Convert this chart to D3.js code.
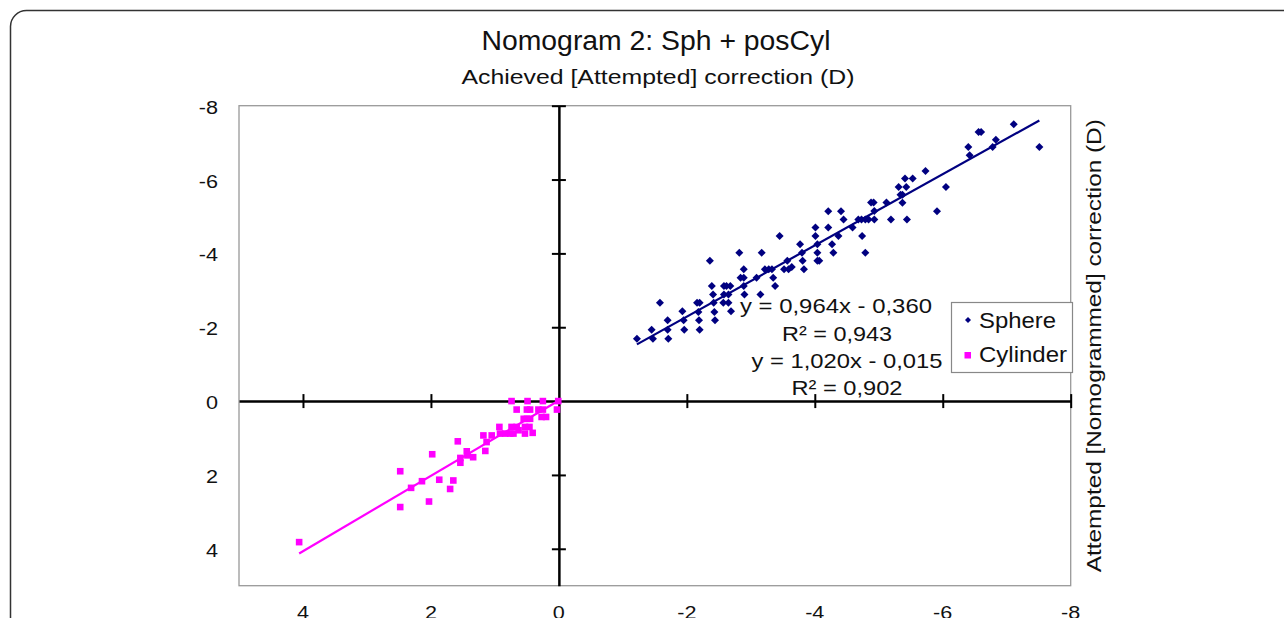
<!DOCTYPE html>
<html>
<head>
<meta charset="utf-8">
<script src="https://cdn.jsdelivr.net/npm/d3@7"></script>
<style>
  html, body { margin: 0; padding: 0; background: #fff; }
  svg { display: block; font-family: "Liberation Sans", Arial, sans-serif; }
</style>
</head>
<body>
<svg id="svg"></svg>
<script>
// values (x = achieved, y = attempted)
var sphereX = [-1.22,-1.45,-1.47,-1.58,-1.70,-1.70,-1.71,-1.93,-1.95,-1.96,-2.16,-2.20,-2.18,-2.19,-2.20,
  -2.36,-2.39,-2.41,-2.42,-2.43,-2.44,-2.58,-2.62,-2.68,-2.58,-2.65,-2.57,-2.65,-2.69,-2.82,-2.84,-2.89,
  -2.89,-2.89,-2.90,-3.17,-3.09,-3.15,-3.22,-3.28,-3.33,-3.35,-3.38,-3.45,-3.52,-3.57,-3.59,-3.64,-3.77,
  -3.80,-3.81,-3.83,-4.01,-4.01,-4.04,-4.04,-4.04,-4.07,-4.21,-4.21,-4.27,-4.29,-4.37,-4.41,-4.45,-4.59,
  -4.68,-4.73,-4.79,-4.74,-4.79,-4.84,-4.88,-4.92,-4.93,-4.93,-5.12,-5.19,-5.31,-5.34,-5.37,-5.37,-5.41,
  -5.43,-5.53,-5.44,-5.73,-5.91,-6.05,-6.40,-6.42,-6.56,-6.60,-6.78,-6.83,-7.11,-7.51];
var sphereY = [-1.69,-1.93,-1.69,-2.66,-2.19,-1.93,-1.69,-2.43,-2.19,-1.93,-2.66,-2.66,-2.41,-2.19,-1.93,
  -3.80,-3.12,-2.89,-2.66,-2.41,-2.19,-3.12,-3.12,-3.12,-2.89,-2.89,-2.66,-2.66,-2.43,-4.02,-3.34,-3.34,
  -3.57,-3.12,-2.89,-4.02,-3.34,-2.89,-3.57,-3.57,-3.57,-3.34,-3.12,-4.47,-3.57,-3.80,-3.57,-3.63,-4.25,
  -4.02,-3.80,-3.57,-4.70,-4.47,-4.25,-4.02,-3.80,-3.80,-5.14,-4.70,-4.25,-4.02,-4.47,-5.14,-4.92,-4.70,
  -4.92,-4.92,-4.92,-4.47,-4.02,-4.92,-5.38,-5.38,-5.15,-4.92,-5.38,-4.92,-5.80,-5.59,-5.59,-5.37,-6.03,
  -5.80,-6.03,-4.92,-6.23,-5.14,-5.80,-6.88,-6.66,-7.29,-7.29,-6.88,-7.08,-7.50,-6.88];

var cylX = [4.06,2.48,2.48,2.31,2.14,2.03,1.98,1.87,1.70,1.65,1.58,1.54,1.54,1.44,1.43,1.34,1.18,1.15,
  1.13,1.05,0.93,0.92,0.84,0.76,0.71,0.74,0.66,0.74,0.66,0.55,0.50,0.45,0.53,0.46,0.53,0.41,0.49,0.50,
  0.45,0.32,0.25,0.27,0.20,0.25,0.03,0.01,0.63];
var cylY = [3.82,1.90,2.87,2.35,2.17,2.72,1.44,2.13,2.38,2.15,1.09,1.54,1.67,1.36,1.47,1.52,0.93,1.35,
  1.11,0.93,0.70,0.88,0.88,0.88,0.88,0.70,0.70,0.00,0.23,0.48,0.48,0.48,0.70,0.70,0.88,0.86,0.00,0.23,
  0.23,0.23,0.23,0.43,0.43,0.00,0.23,0.00,0.79];

// trend lines y = a*x + b over the range of each series
var trendSphere = { a: 0.964, b: -0.360, from: -1.22, to: -7.51 };
var trendCyl = { a: 1.020, b: -0.015, from: 0, to: 4.06 };

var xTicks = [4, 2, 0, -2, -4, -6, -8];
var yTicks = [-8, -6, -4, -2, 0, 2, 4];

var width = 1284, height = 618;

var svg = d3.select("#svg").attr("width", width).attr("height", height);

// stretch a text to a measured width (the source fonts are wider than ours)
function fit(sel, w){
  sel.attr("textLength", w).attr("lengthAdjust", "spacingAndGlyphs");
  return sel;
}
function widen(sel, k){
  sel.each(function(){
    var len = this.getComputedTextLength();
    d3.select(this).attr("textLength", len * k).attr("lengthAdjust", "spacingAndGlyphs");
  });
}

// outer frame
svg.append("rect")
  .attr("x", 10.5).attr("y", 10.5)
  .attr("width", 1400).attr("height", 800)
  .attr("rx", 16)
  .attr("fill", "none").attr("stroke", "#333").attr("stroke-width", 1.5);

var x = d3.scaleLinear().domain([5, -8]).range([239, 1070.7]);
var y = d3.scaleLinear().domain([-8, 5]).range([105.7, 585.7]);

// plot area border
svg.append("rect")
  .attr("x", x(5)).attr("y", y(-8))
  .attr("width", x(-8) - x(5)).attr("height", y(5) - y(-8))
  .attr("fill", "none").attr("stroke", "#999").attr("stroke-width", 1.3);

// titles
fit(svg.append("text").attr("x", 656).attr("y", 50).attr("text-anchor", "middle")
  .attr("font-size", 27).attr("fill", "#111").text("Nomogram 2: Sph + posCyl"), 349);
fit(svg.append("text").attr("x", 658).attr("y", 84).attr("text-anchor", "middle")
  .attr("font-size", 20).attr("fill", "#111").text("Achieved [Attempted] correction (D)"), 393);
fit(svg.append("text").attr("transform", "translate(1101," + ((y(-8) + y(5)) / 2) + ") rotate(-90)")
  .attr("text-anchor", "middle").attr("font-size", 19.5).attr("fill", "#111")
  .text("Attempted [Nomogrammed] correction (D)"), 453);

// crossing axes through the origin
var xAxis = d3.axisBottom(x).tickValues(xTicks.filter(function(d){ return d !== 0; }))
  .tickSizeInner(0).tickSizeOuter(0).tickFormat("");
var yAxis = d3.axisLeft(y).tickValues(yTicks.filter(function(d){ return d !== 0; }))
  .tickSizeInner(0).tickSizeOuter(0).tickFormat("");

var gx = svg.append("g").attr("transform", "translate(0," + y(0) + ")").call(xAxis);
gx.select(".domain").attr("stroke", "#000").attr("stroke-width", 2.5);
gx.selectAll(".tick line").attr("y1", -7).attr("y2", 7).attr("stroke", "#000").attr("stroke-width", 2);

var gy = svg.append("g").attr("transform", "translate(" + x(0) + ",0)").call(yAxis);
gy.select(".domain").attr("stroke", "#000").attr("stroke-width", 2.5);
gy.selectAll(".tick line").attr("x1", -7).attr("x2", 7).attr("stroke", "#000").attr("stroke-width", 2);

// tick labels at the plot edges
var yl = svg.append("g").selectAll("text").data(yTicks).join("text")
  .attr("x", 218).attr("y", function(d){ return y(d) + 8; })
  .attr("text-anchor", "end").attr("font-size", 18).attr("fill", "#111")
  .text(function(d){ return d; });
widen(yl, 1.2);

// the bottom labels are cut by the picture edge, as in the original
var xl = svg.append("g").selectAll("text").data(xTicks).join("text")
  .attr("x", function(d){ return x(d); }).attr("y", 619)
  .attr("text-anchor", "middle").attr("font-size", 18).attr("fill", "#111")
  .text(function(d){ return d; });
widen(xl, 1.2);

// trend lines
var line = d3.line().x(function(d){ return x(d[0]); }).y(function(d){ return y(d[1]); });
function trendPts(t){ return [[t.from, t.a * t.from + t.b], [t.to, t.a * t.to + t.b]]; }

svg.append("path").attr("d", line(trendPts(trendCyl)))
  .attr("stroke", "#ff00ff").attr("stroke-width", 2.2).attr("fill", "none");
svg.append("path").attr("d", line(trendPts(trendSphere)))
  .attr("stroke", "#000080").attr("stroke-width", 2.2).attr("fill", "none");

// markers
var diamond = "M0,-4L4,0L0,4L-4,0Z";
var sphere = d3.zip(sphereX, sphereY);
var cyl = d3.zip(cylX, cylY);

svg.append("g").selectAll("rect").data(cyl).join("rect")
  .attr("x", function(d){ return x(d[0]) - 3.3; })
  .attr("y", function(d){ return y(d[1]) - 3.3; })
  .attr("width", 6.6).attr("height", 6.6)
  .attr("fill", "#ff00ff");

svg.append("g").selectAll("path").data(sphere).join("path")
  .attr("transform", function(d){ return "translate(" + x(d[0]) + "," + y(d[1]) + ")"; })
  .attr("d", diamond).attr("fill", "#000080");

// regression labels
var eqs = [
  { t: "y = 0,964x - 0,360", cx: 836, by: 313, w: 192 },
  { t: "R\u00b2 = 0,943", cx: 837, by: 341, w: 110 },
  { t: "y = 1,020x - 0,015", cx: 847, by: 368, w: 191 },
  { t: "R\u00b2 = 0,902", cx: 847, by: 395, w: 111 }
];
eqs.forEach(function(e){
  fit(svg.append("text").attr("x", e.cx).attr("y", e.by).attr("text-anchor", "middle")
    .attr("font-size", 21).attr("fill", "#111").text(e.t), e.w);
});

// legend
var lg = svg.append("g");
lg.append("rect").attr("x", 951.5).attr("y", 302.5).attr("width", 121).attr("height", 70)
  .attr("fill", "#fff").attr("stroke", "#888").attr("stroke-width", 1.2);
lg.append("path").attr("transform", "translate(968,320)").attr("d", "M0,-3L3,0L0,3L-3,0Z").attr("fill", "#000080");
lg.append("rect").attr("x", 964.5).attr("y", 352).attr("width", 6.5).attr("height", 6.5).attr("fill", "#ff00ff");
fit(lg.append("text").attr("x", 979).attr("y", 328).attr("font-size", 22).attr("fill", "#111").text("Sphere"), 77);
fit(lg.append("text").attr("x", 979).attr("y", 362).attr("font-size", 22).attr("fill", "#111").text("Cylinder"), 88);
</script>
</body>
</html>
